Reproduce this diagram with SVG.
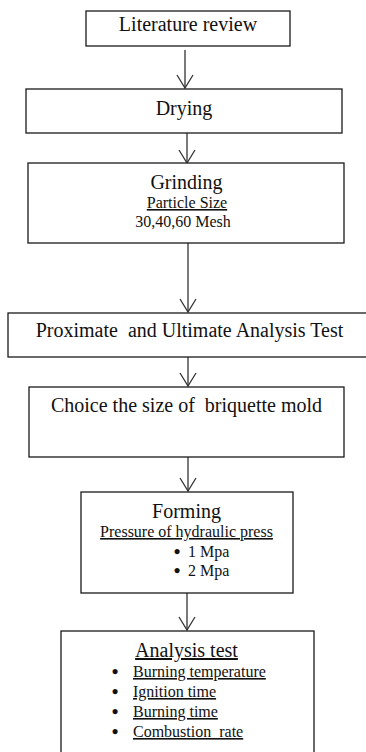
<svg xmlns="http://www.w3.org/2000/svg" width="366" height="752" viewBox="0 0 366 752">
<style>
.box{fill:#fff;stroke:#1a1a1a;stroke-width:1.3}
.con{stroke:#333;stroke-width:1.3;fill:none}
text{font-family:"Liberation Serif","Times New Roman",serif;fill:#111;white-space:pre}
.t{font-size:20px;text-anchor:middle}
.s{font-size:16px;text-anchor:middle}
.b{font-size:19px;font-weight:bold;text-anchor:middle}
.l{font-size:16px}
.u{text-decoration:underline}
</style>
<defs>
<marker id="arr" markerUnits="userSpaceOnUse" markerWidth="30" markerHeight="30" refX="0" refY="0" orient="auto" overflow="visible">
<path d="M-13,-8 L0,0 L-13,8" fill="none" stroke="#333" stroke-width="1.3"/>
</marker>
</defs>
<rect width="366" height="752" fill="#fff"/>
<g id="connectors">
<line class="con" x1="185" y1="50" x2="185" y2="88" marker-end="url(#arr)"/>
<line class="con" x1="187" y1="133" x2="187" y2="163" marker-end="url(#arr)"/>
<line class="con" x1="188" y1="243" x2="188" y2="312" marker-end="url(#arr)"/>
<line class="con" x1="188" y1="357" x2="188" y2="386" marker-end="url(#arr)"/>
<line class="con" x1="188" y1="457" x2="188" y2="491" marker-end="url(#arr)"/>
<line class="con" x1="187" y1="593" x2="187" y2="630" marker-end="url(#arr)"/>
</g>
<g id="literature">
<rect class="box" x="86" y="11" width="204" height="35"/>
<text class="t" x="188" y="31">Literature review</text>
</g>
<g id="drying">
<rect class="box" x="26" y="89" width="316" height="44"/>
<text class="t" x="184" y="115">Drying</text>
</g>
<g id="grinding">
<rect class="box" x="28" y="163" width="316" height="80"/>
<text class="t" x="186.5" y="189">Grinding</text>
<text class="s u" x="187" y="208">Particle Size</text>
<text class="s" x="183" y="227">30,40,60 Mesh</text>
</g>
<g id="proximate">
<rect class="box" x="8" y="313" width="362" height="44"/>
<text class="t" x="189.5" y="337">Proximate  and Ultimate Analysis Test</text>
</g>
<g id="choice">
<rect class="box" x="29" y="387" width="315" height="70"/>
<text class="t" x="186.5" y="412">Choice the size of  briquette mold</text>
</g>
<g id="forming">
<rect class="box" x="81" y="492" width="212" height="101"/>
<text class="t" x="186.5" y="518">Forming</text>
<text class="s u" x="186.5" y="537">Pressure of hydraulic press</text>
<text class="b" x="177" y="558">•</text>
<text class="l" x="188" y="557">1 Mpa</text>
<text class="b" x="177" y="577">•</text>
<text class="l" x="188" y="576">2 Mpa</text>
</g>
<g id="analysis">
<rect class="box" x="61" y="631" width="253" height="130"/>
<text class="t u" x="186.5" y="657">Analysis test</text>
<text class="b" x="115" y="678">•</text>
<text class="l u" x="133" y="677">Burning temperature</text>
<text class="b" x="115" y="698">•</text>
<text class="l u" x="133" y="697">Ignition time</text>
<text class="b" x="115" y="718">•</text>
<text class="l u" x="133" y="717">Burning time</text>
<text class="b" x="115" y="738">•</text>
<text class="l u" x="133" y="737">Combustion  rate</text>
</g>
</svg>
